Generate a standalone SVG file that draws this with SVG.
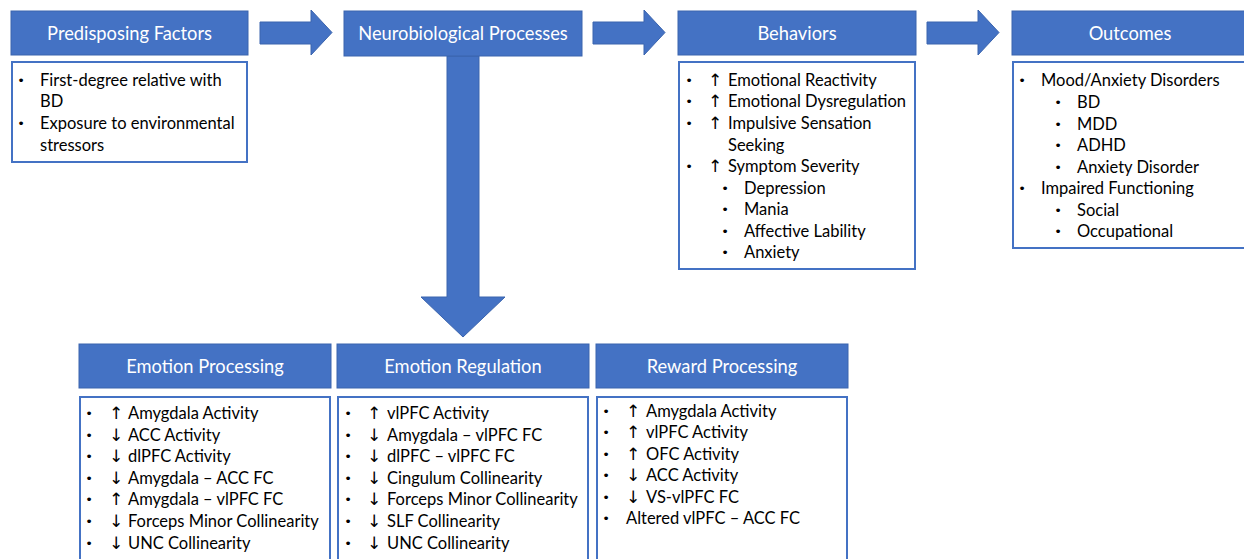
<svg xmlns="http://www.w3.org/2000/svg" width="1244" height="559" viewBox="0 0 1244 559">
  <style>
    .hdr { fill: #4472C4; stroke: #3A64AE; stroke-width: 1; }
    .box { fill: #FFFFFF; stroke: #4472C4; stroke-width: 2; }
    .arrow { fill: #4472C4; stroke: #3A64AE; stroke-width: 1; }
    .ht { font-family: Lato, "Open Sans", "DejaVu Sans", sans-serif; font-size: 18.3px; fill: #FFFFFF; text-anchor: middle; }
    .t { font-family: Lato, "Open Sans", "DejaVu Sans", sans-serif; font-size: 16.5px; fill: #000000; }
    .b { font-family: "DejaVu Sans", sans-serif; font-size: 13px; fill: #000000; text-anchor: middle; }
    .ar { font-family: "DejaVu Sans", sans-serif; font-size: 17px; fill: #000000; text-anchor: middle; }
  </style>
  <rect width="1244" height="559" fill="#FFFFFF"/>

  <!-- connectors: block arrows -->
  <g id="connectors">
    <polygon class="arrow" points="260,22 311,22 311,10 332,32.5 311,55 311,44 260,44"/>
    <polygon class="arrow" points="593,22 644,22 644,10 665,32.5 644,55 644,44 593,44"/>
    <polygon class="arrow" points="927,22 978,22 978,10 999,32.5 978,55 978,44 927,44"/>
    <polygon class="arrow" points="447,56 479,56 479,297 505,297 463,337 421,297 447,297"/>
  </g>

  <!-- Predisposing Factors -->
  <g id="predisposing">
    <rect class="hdr" x="11" y="11" width="237" height="44"/>
    <text class="ht" x="129.5" y="39.5">Predisposing Factors</text>
    <rect class="box" x="12" y="62" width="235" height="100"/>
    <text class="b" x="21" y="85">•</text><text class="t" x="40" y="85.5">First-degree relative with</text>
    <text class="t" x="40" y="107">BD</text>
    <text class="b" x="21" y="128">•</text><text class="t" x="40" y="128.5">Exposure to environmental</text>
    <text class="t" x="40" y="150.5">stressors</text>
  </g>

  <!-- Neurobiological Processes -->
  <g id="neurobiological">
    <rect class="hdr" x="344" y="11" width="238" height="45"/>
    <text class="ht" x="463" y="39.5">Neurobiological Processes</text>
  </g>

  <!-- Behaviors -->
  <g id="behaviors">
    <rect class="hdr" x="678" y="11" width="238" height="44"/>
    <text class="ht" x="797" y="39.5">Behaviors</text>
    <rect class="box" x="679" y="62" width="236" height="207"/>
    <text class="b" x="689" y="85">•</text><text class="ar" x="715" y="86">↑</text><text class="t" x="728" y="85.5">Emotional Reactivity</text>
    <text class="b" x="689" y="106">•</text><text class="ar" x="715" y="107">↑</text><text class="t" x="728" y="106.5">Emotional Dysregulation</text>
    <text class="b" x="689" y="128">•</text><text class="ar" x="715" y="129">↑</text><text class="t" x="728" y="128.5">Impulsive Sensation</text>
    <text class="t" x="728" y="150.5">Seeking</text>
    <text class="b" x="689" y="171">•</text><text class="ar" x="715" y="172">↑</text><text class="t" x="728" y="171.5">Symptom Severity</text>
    <text class="b" x="725" y="193">•</text><text class="t" x="744" y="193.5">Depression</text>
    <text class="b" x="725" y="214">•</text><text class="t" x="744" y="214.5">Mania</text>
    <text class="b" x="725" y="236">•</text><text class="t" x="744" y="236.5">Affective Lability</text>
    <text class="b" x="725" y="257">•</text><text class="t" x="744" y="257.5">Anxiety</text>
  </g>

  <!-- Outcomes -->
  <g id="outcomes">
    <rect class="hdr" x="1012" y="11" width="240" height="44"/>
    <text class="ht" x="1130" y="39.5">Outcomes</text>
    <rect class="box" x="1013" y="62" width="240" height="186"/>
    <text class="b" x="1022" y="85">•</text><text class="t" x="1041" y="85.5">Mood/Anxiety Disorders</text>
    <text class="b" x="1058" y="107">•</text><text class="t" x="1077" y="107.5">BD</text>
    <text class="b" x="1058" y="129">•</text><text class="t" x="1077" y="129.5">MDD</text>
    <text class="b" x="1058" y="150">•</text><text class="t" x="1077" y="150.5">ADHD</text>
    <text class="b" x="1058" y="172">•</text><text class="t" x="1077" y="172.5">Anxiety Disorder</text>
    <text class="b" x="1022" y="193">•</text><text class="t" x="1041" y="193.5">Impaired Functioning</text>
    <text class="b" x="1058" y="215">•</text><text class="t" x="1077" y="215.5">Social</text>
    <text class="b" x="1058" y="236">•</text><text class="t" x="1077" y="236.5">Occupational</text>
  </g>

  <!-- Emotion Processing -->
  <g id="emotion-processing">
    <rect class="hdr" x="79" y="344" width="252" height="44"/>
    <text class="ht" x="205" y="372.5">Emotion Processing</text>
    <rect class="box" x="80" y="397" width="250" height="170"/>
    <text class="b" x="89" y="418">•</text><text class="ar" x="116" y="419">↑</text><text class="t" x="128" y="418.5">Amygdala Activity</text>
    <text class="b" x="89" y="440">•</text><text class="ar" x="116" y="441">↓</text><text class="t" x="128" y="440.5">ACC Activity</text>
    <text class="b" x="89" y="461">•</text><text class="ar" x="116" y="462">↓</text><text class="t" x="128" y="461.5">dlPFC Activity</text>
    <text class="b" x="89" y="483">•</text><text class="ar" x="116" y="484">↓</text><text class="t" x="128" y="483.5">Amygdala – ACC FC</text>
    <text class="b" x="89" y="504">•</text><text class="ar" x="116" y="505">↑</text><text class="t" x="128" y="504.5">Amygdala – vlPFC FC</text>
    <text class="b" x="89" y="526">•</text><text class="ar" x="116" y="527">↓</text><text class="t" x="128" y="526.5">Forceps Minor Collinearity</text>
    <text class="b" x="89" y="548">•</text><text class="ar" x="116" y="549">↓</text><text class="t" x="128" y="548.5">UNC Collinearity</text>
  </g>

  <!-- Emotion Regulation -->
  <g id="emotion-regulation">
    <rect class="hdr" x="337" y="344" width="252" height="44"/>
    <text class="ht" x="463" y="372.5">Emotion Regulation</text>
    <rect class="box" x="338" y="397" width="250" height="170"/>
    <text class="b" x="348" y="418">•</text><text class="ar" x="374" y="419">↑</text><text class="t" x="387" y="418.5">vlPFC Activity</text>
    <text class="b" x="348" y="440">•</text><text class="ar" x="374" y="441">↓</text><text class="t" x="387" y="440.5">Amygdala – vlPFC FC</text>
    <text class="b" x="348" y="461">•</text><text class="ar" x="374" y="462">↓</text><text class="t" x="387" y="461.5">dlPFC – vlPFC FC</text>
    <text class="b" x="348" y="483">•</text><text class="ar" x="374" y="484">↓</text><text class="t" x="387" y="483.5">Cingulum Collinearity</text>
    <text class="b" x="348" y="504">•</text><text class="ar" x="374" y="505">↓</text><text class="t" x="387" y="504.5">Forceps Minor Collinearity</text>
    <text class="b" x="348" y="526">•</text><text class="ar" x="374" y="527">↓</text><text class="t" x="387" y="526.5">SLF Collinearity</text>
    <text class="b" x="348" y="548">•</text><text class="ar" x="374" y="549">↓</text><text class="t" x="387" y="548.5">UNC Collinearity</text>
  </g>

  <!-- Reward Processing -->
  <g id="reward-processing">
    <rect class="hdr" x="596" y="344" width="252" height="44"/>
    <text class="ht" x="722" y="372.5">Reward Processing</text>
    <rect class="box" x="597" y="397" width="250" height="170"/>
    <text class="b" x="606" y="416">•</text><text class="ar" x="633" y="417">↑</text><text class="t" x="646" y="416.5">Amygdala Activity</text>
    <text class="b" x="606" y="437">•</text><text class="ar" x="633" y="438">↑</text><text class="t" x="646" y="437.5">vlPFC Activity</text>
    <text class="b" x="606" y="459">•</text><text class="ar" x="633" y="460">↑</text><text class="t" x="646" y="459.5">OFC Activity</text>
    <text class="b" x="606" y="480">•</text><text class="ar" x="633" y="481">↓</text><text class="t" x="646" y="480.5">ACC Activity</text>
    <text class="b" x="606" y="502">•</text><text class="ar" x="633" y="503">↓</text><text class="t" x="646" y="502.5">VS-vlPFC FC</text>
    <text class="b" x="606" y="523">•</text><text class="t" x="626" y="523.5">Altered vlPFC – ACC FC</text>
  </g>
</svg>
